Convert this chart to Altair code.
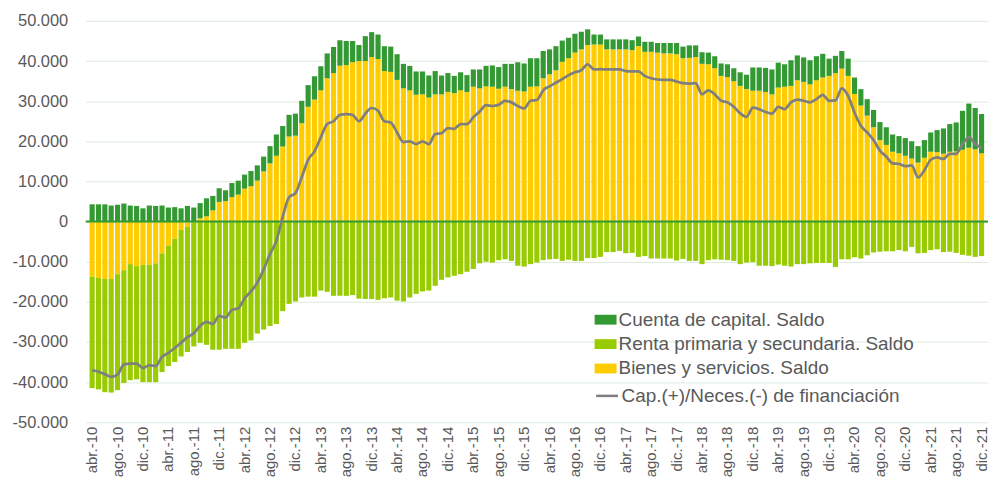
import altair as alt
import pandas as pd

# ---- data (millions of euros, 12-month sums) ----
cap = [
    4300, 4300, 4300, 4000, 4200, 4500, 4000, 3900, 3300, 4000,
    3900, 4000, 3500, 3600, 3300, 3900, 3500, 3800, 4500, 3600,
    3400, 2700, 3500, 3500, 3500, 3800, 3800, 3700, 4300, 5300,
    5100, 5400, 5500, 5600, 5400, 5800, 6000, 6200, 6500, 6400,
    6000, 5300, 4000, 6200, 6200, 6100, 6200, 6300, 6400, 6100,
    6100, 5800, 5700, 5500, 5800, 4700, 4700, 4300, 4500, 4200,
    4300, 4700, 5100, 5300, 5400, 5700, 6300, 7100, 7000, 7100,
    7000, 6800, 6200, 6000, 5300, 5100, 4700, 4400, 3900, 2500,
    2500, 2500, 2500, 2500, 2500, 2500, 2400, 2500, 2500, 2400,
    2600, 2600, 2800, 2900, 3100, 2900, 2900, 2900, 3000, 3100,
    3200, 3200, 3400, 3600, 5800, 5800, 6000, 6200, 6200, 5600,
    6400, 6200, 6100, 6000, 6000, 5900, 4300, 4300, 4400, 4300,
    4100, 4100, 4100, 4300, 4500, 4400, 4300, 4300, 4400, 4300,
    4100, 4400, 4800, 5500, 6300, 6900, 7200, 9700, 11000, 10300,
    9800,
]
bys = [
    -13700, -14000, -14300, -14300, -13100, -12100, -10600, -11100, -10800, -10800,
    -10400, -7900, -6000, -4300, -2100, -1300, -200, 800, 1300, 2800,
    4900, 5100, 6100, 6700, 8200, 8800, 10200, 12500, 14500, 16400,
    18700, 21200, 21400, 24500, 28600, 30400, 32700, 35700, 37000, 38800,
    39000, 39700, 40000, 40000, 41000, 40500, 37500, 37300, 35300, 33200,
    32700, 31600, 31700, 30900, 31700, 31700, 32300, 32000, 32700, 32300,
    33600, 33200, 33700, 33600, 33100, 33600, 33000, 32600, 32400, 33600,
    33700, 35700, 36700, 37700, 39800, 40700, 42100, 42900, 44000, 44100,
    44100, 42900, 42900, 42900, 42900, 42700, 43700, 42300, 42300, 42100,
    41900, 41900, 41700, 40700, 40800, 41000, 39300, 39200, 38200, 36300,
    36000, 35000, 33800, 33000, 32600, 32600, 32300, 31700, 33400, 33600,
    33800, 35200, 34800, 34200, 35200, 35900, 36300, 37000, 38100, 36300,
    31800, 28900, 26400, 23500, 20300, 19100, 17400, 17000, 16400, 15700,
    14700, 15900, 17400, 17300, 16900, 17400, 17500, 17900, 18400, 18000,
    17000,
]
renta = [
    -27800, -27800, -28200, -28300, -28900, -28100, -28900, -28200, -29200, -29200,
    -29600, -29600, -30000, -30700, -31500, -31200, -30900, -30200, -30700, -31900,
    -31900, -31700, -31700, -31700, -30200, -29600, -27900, -26900, -26000, -25500,
    -22300, -20500, -19900, -18900, -18700, -18700, -17200, -17500, -18500, -18500,
    -18500, -18300, -19200, -19300, -19300, -19500, -19100, -18900, -19700, -19900,
    -18900, -18000, -17400, -17200, -16000, -14500, -13900, -13500, -13100, -12500,
    -11800, -10400, -10000, -10200, -9600, -9400, -9800, -11000, -11200, -10600,
    -10200, -9600, -9400, -9300, -9800, -9500, -9800, -9800, -9100, -9100,
    -8800, -7600, -7600, -7300, -7900, -7800, -8800, -8600, -9200, -9200,
    -9200, -9200, -9700, -9300, -9800, -9800, -10600, -9600, -9400, -9500,
    -9600, -9800, -10600, -10200, -10100, -11000, -11000, -11100, -10700, -11000,
    -11200, -10600, -10600, -10400, -10300, -10300, -10300, -11300, -9400, -9400,
    -8900, -9200, -8400, -7700, -7500, -7400, -7400, -7100, -7400, -6300,
    -7900, -7800, -7100, -6900, -7600, -7500, -7800, -8300, -8500, -8800,
    -8600,
]
capnec = [
    -37000, -37400, -38000, -38700, -38100, -35600, -35400, -35400, -36500, -35800,
    -36000, -33700, -32700, -31500, -30200, -28800, -27800, -26000, -25000, -25500,
    -23500, -23900, -22000, -21600, -19100, -17400, -15200, -11900, -8100, -4800,
    1200, 6100, 7100, 11100, 15400, 17500, 21000, 24300, 25000, 26600,
    26800, 26600, 25000, 26900, 28300, 27600, 25000, 24700, 22200, 19800,
    20000, 19300, 20000, 19300, 21800, 22000, 23300, 23100, 24300, 24300,
    26000, 27400, 29000, 28800, 29100, 30100, 29700, 28800, 28200, 30100,
    30300, 32700, 33700, 34600, 35500, 36500, 37200, 37700, 39200, 37900,
    38000, 37900, 37900, 37900, 37500, 37400, 37400, 36300, 35700, 35400,
    35300, 35300, 34900, 34500, 34400, 34500, 31700, 32700, 31700, 30100,
    29700, 28600, 27000, 26100, 28400, 28000, 27300, 26900, 28600, 28000,
    29700, 30400, 30100, 29700, 30500, 31600, 30100, 30200, 33200, 31300,
    27200, 23900, 22200, 20300, 17700, 16200, 14500, 14400, 13800, 14000,
    11000, 12800, 15400, 16000, 15600, 16900, 16900, 19300, 21000, 19400,
    18300,
]
month_names = ["ene.", "feb.", "mar.", "abr.", "may.", "jun.",
               "jul.", "ago.", "sep.", "oct.", "nov.", "dic."]
tick_labels = [
    "abr.-10", "ago.-10", "dic.-10", "abr.-11", "ago.-11", "dic.-11",
    "abr.-12", "ago.-12", "dic.-12", "abr.-13", "ago.-13", "dic.-13",
    "abr.-14", "ago.-14", "dic.-14", "abr.-15", "ago.-15", "dic.-15",
    "abr.-16", "ago.-16", "dic.-16", "abr.-17", "ago.-17", "dic.-17",
    "abr.-18", "ago.-18", "dic.-18", "abr.-19", "ago.-19", "dic.-19",
    "abr.-20", "ago.-20", "dic.-20", "abr.-21", "ago.-21", "dic.-21",
]
y_ticks = [-50000, -40000, -30000, -20000, -10000, 0, 10000, 20000, 30000, 40000, 50000]
series_names = [
    "Cuenta de capital. Saldo",
    "Renta primaria y secundaria. Saldo",
    "Bienes y servicios. Saldo",
]
line_name = "Cap.(+)/Neces.(-) de financiación"
colors = ["#339933", "#99CC00", "#FFCC00"]

# month categories abr.-10 ... dic.-21
months = []
for k in range(len(bys)):
    m = 3 + k
    months.append(f"{month_names[m % 12]}-{10 + m // 12:02d}")

rows = []
for k, mes in enumerate(months):
    rows.append({"mes": mes, "serie": series_names[2], "ord": 0, "v": bys[k]})
    rows.append({"mes": mes, "serie": series_names[1], "ord": 1, "v": renta[k]})
    rows.append({"mes": mes, "serie": series_names[0], "ord": 2, "v": cap[k]})
bars_df = pd.DataFrame(rows)
line_df = pd.DataFrame({"mes": months, "v": capnec, "name": [line_name] * len(months)})
zero_df = pd.DataFrame({"v": [0]})

FONT = "Liberation Sans"
TXT = "#595959"

xscale = alt.Scale(paddingInner=0.19, paddingOuter=0.61)
yscale = alt.Scale(domain=[-50000, 50000], nice=False)

bars = alt.Chart(bars_df).mark_bar().encode(
    x=alt.X("mes:N", sort=months, scale=xscale,
            axis=alt.Axis(values=tick_labels, labelAngle=270, labelOverlap=False,
                          domain=False, ticks=False, grid=False,
                          labelPadding=4, labelFont=FONT, labelFontSize=15,
                          labelColor=TXT, title=None)),
    y=alt.Y("v:Q", stack="zero", scale=yscale,
            axis=alt.Axis(values=y_ticks, format=",d",
                          domain=False, ticks=False, grid=True, gridColor="#DCEADC",
                          gridWidth=1, labelPadding=18, labelFont=FONT,
                          labelFontSize=16.5, labelColor=TXT, labelOverlap=False,
                          title=None)),
    color=alt.Color("serie:N",
                    scale=alt.Scale(domain=series_names, range=colors),
                    legend=alt.Legend(title=None, orient="none", legendX=511, legendY=289,
                                      symbolType="M-1,-0.45H1V0.45H-1Z", symbolSize=484,
                                      symbolStrokeWidth=0, labelFont=FONT,
                                      labelFontSize=19, labelColor=TXT, labelOffset=2,
                                      labelLimit=500, rowPadding=3.5, padding=0)),
    order=alt.Order("ord:Q", sort="ascending"),
)

zero = alt.Chart(zero_df).mark_rule(color="#339933", strokeWidth=2).encode(
    y=alt.Y("v:Q", scale=yscale)
)

line = alt.Chart(line_df).mark_line(strokeWidth=2.75, interpolate="monotone").encode(
    x=alt.X("mes:N", sort=months, scale=xscale),
    y=alt.Y("v:Q", scale=yscale),
    color=alt.Color("name:N",
                    scale=alt.Scale(domain=[line_name], range=["#7F7F7F"]),
                    legend=alt.Legend(title=None, orient="none", legendX=511, legendY=364,
                                      symbolType="M-1,0H1", symbolSize=484,
                                      symbolStrokeWidth=2.5, labelFont=FONT,
                                      labelFontSize=19, labelColor=TXT, labelOffset=2,
                                      labelLimit=500, padding=0)),
)

chart = alt.layer(bars, zero, line).resolve_scale(color="independent").properties(
    width=906, height=403,
    autosize=alt.AutoSizeParams(type="none"),
    padding={"left": 78, "top": 12, "right": 3, "bottom": 56},
).configure(
    locale={"number": {"decimal": ",", "thousands": ".", "grouping": [3],
                       "currency": ["", " €"], "minus": "-"}}
).configure_view(strokeWidth=0)

chart.save("out.html", embed_options={"renderer": "svg", "actions": False})
